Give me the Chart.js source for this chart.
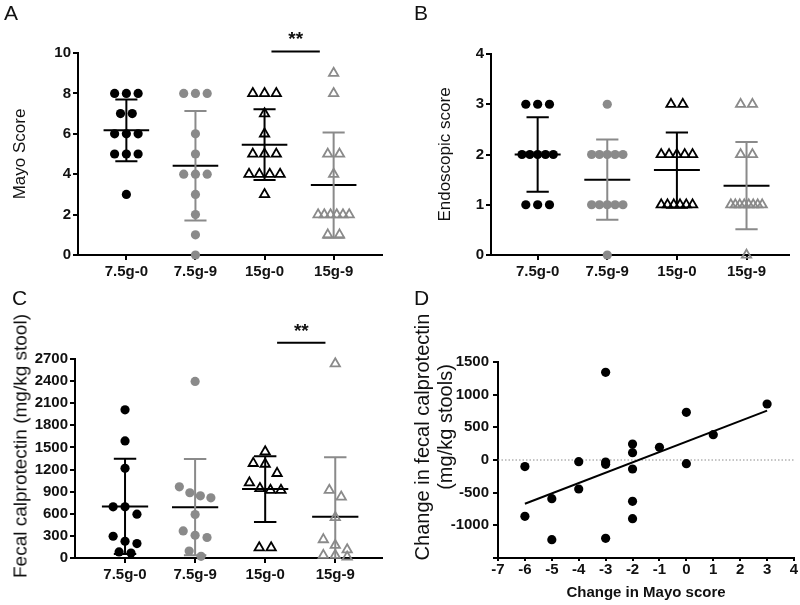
<!DOCTYPE html>
<html>
<head>
<meta charset="utf-8">
<script src="https://cdn.jsdelivr.net/npm/chart.js@4.4.1/dist/chart.umd.min.js"></script>
<style>
  body { margin: 0; background: #fff; font-family: "Liberation Sans", Arial, sans-serif; }
  #wrap { position: relative; width: 800px; height: 605px; overflow: hidden; }
  canvas { position: absolute; }
  .tag { position: absolute; font-size: 21px; line-height: 1; color: #111; }
  .ytitle { position: absolute; font-size: 20px; line-height: 1; color: #111; white-space: nowrap;
            transform: translate(-50%, -50%) rotate(-90deg); }
</style>
</head>
<body>
<div id="wrap">
  <canvas id="chartA" width="400" height="300" style="left:0;top:0"></canvas>
  <canvas id="chartB" width="400" height="300" style="left:400px;top:0"></canvas>
  <canvas id="chartC" width="400" height="305" style="left:0;top:300px"></canvas>
  <canvas id="chartD" width="400" height="305" style="left:400px;top:300px"></canvas>
  <div class="tag" style="left:4px;top:2px">A</div>
  <div class="tag" style="left:414px;top:2px">B</div>
  <div class="tag" style="left:12px;top:287px">C</div>
  <div class="tag" style="left:414px;top:287px">D</div>
  <div class="ytitle" style="left:20px;top:446px;font-size:19px">Fecal calprotectin (mg/kg stool)</div>
  <div class="ytitle" style="left:422px;top:437px">Change in fecal calprotectin</div>
  <div class="ytitle" style="left:445px;top:427px">(mg/kg stools)</div>
</div>
<script>
const groups = ['7.5g-0', '7.5g-9', '15g-0', '15g-9'];

// A - Mayo score per patient
const mayo_75g0 = [8, 8, 8, 7, 7, 6, 6, 6, 5, 5, 5, 3];
const mayo_75g9 = [8, 8, 8, 6, 5, 4, 4, 4, 3, 2, 1, 0];
const mayo_15g0 = [8, 8, 8, 7, 6, 5, 5, 5, 4, 4, 4, 4, 3];
const mayo_15g9 = [9, 8, 5, 5, 4, 2, 2, 2, 2, 2, 2, 1, 1];
const mayoMean = [6.17, 4.42, 5.46, 3.46];
const mayoSD = [1.53, 2.71, 1.75, 2.6];

// B - endoscopic score
const endo_75g0 = [3, 3, 3, 2, 2, 2, 2, 2, 1, 1, 1];
const endo_75g9 = [3, 2, 2, 2, 2, 2, 1, 1, 1, 1, 1, 0];
const endo_15g0 = [3, 3, 2, 2, 2, 2, 2, 1, 1, 1, 1, 1, 1];
const endo_15g9 = [3, 3, 2, 2, 1, 1, 1, 1, 1, 1, 1, 1, 0];
const endoMean = [2.0, 1.5, 1.69, 1.38];
const endoSD = [0.74, 0.8, 0.75, 0.87];

// C - fecal calprotectin (mg/kg stool)
const calp_75g0 = [2010, 1588, 1217, 694, 694, 595, 295, 227, 196, 82, 68];
const calp_75g9 = [2396, 966, 885, 844, 817, 590, 367, 309, 278, 95, 23];
const calp_15g0 = [1443, 1285, 1275, 1149, 1021, 944, 921, 921, 141, 141];
const calp_15g9 = [2636, 921, 830, 550, 250, 173, 114, 37, 37, 14];
const calpMean = [700, 690, 935, 558];
const calpSD = [645, 653, 447, 810];

// D - change in Mayo score vs change in calprotectin
const mayoChange = [-6, -6, -5, -5, -4, -4, -3, -3, -3, -3, -2, -2, -2, -2, -2, -1, 0, 0, 1, 3];
const calpChange = [-100, -862, -592, -1219, -26, -444, 1342, -31, -66, -1199, 245, 112, -138, -633, -898, 194, 730, -56, 388, 857];
const fitX = [-6, 3];
const fitY = [-670, 755];

// significance bars
const sigA = { from: 2.1, to: 2.8, y: 10.08, label: '**' };
const sigC = { from: 2.17, to: 2.86, y: 2920, label: '**' };

const BLACK = '#000';
const GREY = '#8a8a8a';
const groupColor = [BLACK, GREY, BLACK, GREY];
const groupShape = ['circle', 'circle', 'triangle', 'triangle'];

Chart.defaults.font.family = '"Liberation Sans", Arial, sans-serif';
Chart.defaults.color = '#111';

const tickFont = { size: 15, weight: 'bold' };
const axisGrid = { drawOnChartArea: false, color: BLACK, lineWidth: 2, tickLength: 5 };
const axisBorder = { color: BLACK, width: 2 };

// spread points that share (about) the same value side by side, like a dot plot
function spread(values, rowSpan, step, maxWidth) {
  const sorted = values.slice().sort((a, b) => b - a);
  const rows = [];
  sorted.forEach(v => {
    const row = rows[rows.length - 1];
    if (row && row[0] - v <= rowSpan) row.push(v);
    else rows.push([v]);
  });
  const pts = [];
  rows.forEach(row => {
    const gap = row.length > 1 ? Math.min(step, maxWidth / (row.length - 1)) : 0;
    row.forEach((v, k) => pts.push({ off: (k - (row.length - 1) / 2) * gap, y: v }));
  });
  return pts;
}

const sigStars = {
  id: 'sigStars',
  afterDatasetsDraw(chart, args, opts) {
    const sig = opts.sig;
    if (!sig) return;
    const ctx = chart.ctx;
    const x = chart.scales.x.getPixelForValue((sig.from + sig.to) / 2);
    const y = chart.scales.y.getPixelForValue(sig.y);
    ctx.save();
    ctx.font = 'bold 19px "Liberation Sans", Arial, sans-serif';
    ctx.fillStyle = '#111';
    ctx.textAlign = 'center';
    ctx.textBaseline = 'alphabetic';
    ctx.fillText(sig.label, x, y - 6);
    ctx.restore();
  }
};

function dotPanel(id, sets, mean, sd, cfg) {
  const datasets = [];
  sets.forEach((vals, i) => {
    const round = groupShape[i] === 'circle';
    datasets.push({
      data: spread(vals, cfg.rowSpan, 0.17, 0.45).map(p => ({ x: i + p.off, y: p.y })),
      pointStyle: groupShape[i],
      pointRadius: round ? 4.6 : 5.4,
      pointBackgroundColor: round ? groupColor[i] : 'rgba(0,0,0,0)',
      pointBorderColor: groupColor[i],
      pointBorderWidth: round ? 0 : 1.8,
      clip: false
    });
  });
  // SD whiskers with caps
  sets.forEach((vals, i) => {
    const hi = mean[i] + sd[i];
    const lo = mean[i] - sd[i];
    datasets.push({
      data: [
        { x: i - 0.16, y: hi }, { x: i + 0.16, y: hi }, { x: i, y: null },
        { x: i, y: hi }, { x: i, y: lo }, { x: i, y: null },
        { x: i - 0.16, y: lo }, { x: i + 0.16, y: lo }
      ],
      showLine: true, borderColor: groupColor[i], borderWidth: 2, pointRadius: 0
    });
  });
  // mean lines
  datasets.push({
    data: mean.flatMap((m, i) => [{ x: i - 0.33, y: m }, { x: i + 0.33, y: m }, { x: i, y: null }]),
    showLine: true, borderColor: BLACK, borderWidth: 2, pointRadius: 0
  });
  if (cfg.sig) {
    datasets.push({
      data: [{ x: cfg.sig.from, y: cfg.sig.y }, { x: cfg.sig.to, y: cfg.sig.y }],
      showLine: true, borderColor: BLACK, borderWidth: 2, pointRadius: 0, clip: false
    });
  }

  new Chart(document.getElementById(id), {
    type: 'scatter',
    data: { datasets },
    options: {
      responsive: false,
      animation: false,
      events: [],
      layout: { padding: cfg.pad },
      plugins: { legend: { display: false }, tooltip: { enabled: false }, sigStars: { sig: cfg.sig } },
      scales: {
        x: {
          type: 'linear', min: cfg.xMin, max: cfg.xMax,
          afterBuildTicks: s => { s.ticks = groups.map((g, i) => ({ value: i })); },
          afterFit: s => { s.height = cfg.xHeight; },
          ticks: { callback: v => groups[v], font: tickFont, padding: 3, maxRotation: 0, autoSkip: false },
          grid: axisGrid, border: axisBorder
        },
        y: {
          min: cfg.yMin, max: cfg.yMax,
          afterFit: s => { s.width = cfg.yWidth; },
          ticks: { stepSize: cfg.yStep, callback: v => String(v), font: tickFont, padding: 2 },
          title: cfg.title ? { display: true, text: cfg.title, font: { size: 17 }, color: '#111', padding: { top: cfg.titlePad, bottom: 0 } } : { display: false },
          grid: axisGrid, border: axisBorder
        }
      }
    },
    plugins: [sigStars]
  });
}

dotPanel('chartA', [mayo_75g0, mayo_75g9, mayo_15g0, mayo_15g9], mayoMean, mayoSD, {
  rowSpan: 0.5, xMin: -0.7, xMax: 3.7, yMin: 0, yMax: 10, yStep: 2,
  pad: { left: 0, right: 18, top: 53, bottom: 0 }, yWidth: 78, xHeight: 45,
  title: 'Mayo Score', titlePad: 10, sig: sigA
});

dotPanel('chartB', [endo_75g0, endo_75g9, endo_15g0, endo_15g9], endoMean, endoSD, {
  rowSpan: 0.5, xMin: -0.67, xMax: 3.61, yMin: 0, yMax: 4, yStep: 1,
  pad: { left: 0, right: 11, top: 54, bottom: 0 }, yWidth: 91, xHeight: 45,
  title: 'Endoscopic score', titlePad: 35
});

dotPanel('chartC', [calp_75g0, calp_75g9, calp_15g0, calp_15g9], calpMean, calpSD, {
  rowSpan: 150, xMin: -0.714, xMax: 3.667, yMin: 0, yMax: 2700, yStep: 300,
  pad: { left: 0, right: 18, top: 59, bottom: 0 }, yWidth: 75, xHeight: 47,
  sig: sigC
});

const dXMin = -7, dXMax = 4;
new Chart(document.getElementById('chartD'), {
  type: 'scatter',
  data: {
    datasets: [
      {
        data: mayoChange.map((x, i) => ({ x, y: calpChange[i] })),
        pointRadius: 4.6, pointBackgroundColor: BLACK, pointBorderWidth: 0, clip: false
      },
      {
        data: fitX.map((x, i) => ({ x, y: fitY[i] })),
        showLine: true, borderColor: BLACK, borderWidth: 2, pointRadius: 0
      },
      {
        data: [{ x: dXMin, y: 0 }, { x: dXMax, y: 0 }],
        showLine: true, borderColor: '#8a8a8a', borderWidth: 1, borderDash: [1.5, 2], pointRadius: 0
      }
    ]
  },
  options: {
    responsive: false,
    animation: false,
    events: [],
    layout: { padding: { left: 0, right: 6, top: 62, bottom: 0 } },
    plugins: { legend: { display: false }, tooltip: { enabled: false } },
    scales: {
      x: {
        type: 'linear', min: dXMin, max: dXMax,
        afterFit: s => { s.height = 47; },
        ticks: { stepSize: 1, callback: v => String(v), font: tickFont, padding: 0, maxRotation: 0, autoSkip: false },
        title: { display: true, text: 'Change in Mayo score', font: { size: 15, weight: 'bold' }, color: '#111', padding: { top: 0, bottom: 3 } },
        grid: { drawOnChartArea: false, color: BLACK, lineWidth: 2, tickLength: 3 }, border: axisBorder
      },
      y: {
        min: -1500, max: 1500,
        afterFit: s => { s.width = 98; },
        ticks: { stepSize: 500, callback: v => (v === -1500 ? '' : String(v)), font: tickFont, padding: 4 },
        grid: axisGrid, border: axisBorder
      }
    }
  }
});
</script>
</body>
</html>
